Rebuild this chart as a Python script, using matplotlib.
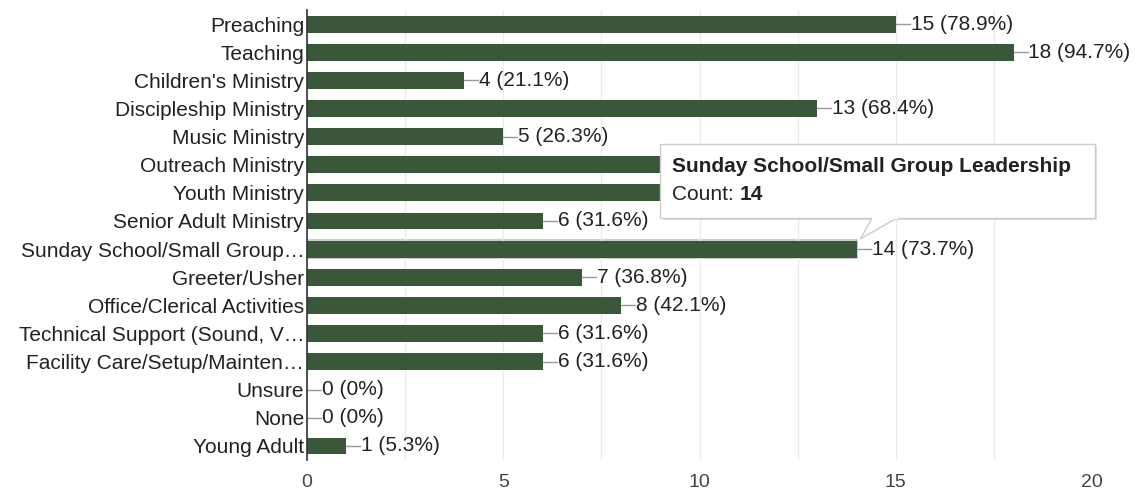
import matplotlib.pyplot as plt
import numpy as np
from matplotlib.patches import FancyBboxPatch, Polygon

plt.rcParams['font.family'] = ['Liberation Sans', 'DejaVu Sans']

# ministry areas and response counts (19 respondents)
labels = ['Preaching', 'Teaching', "Children's Ministry", 'Discipleship Ministry',
          'Music Ministry', 'Outreach Ministry', 'Youth Ministry', 'Senior Adult Ministry',
          'Sunday School/Small Group\u2026', 'Greeter/Usher', 'Office/Clerical Activities',
          'Technical Support (Sound, V\u2026', 'Facility Care/Setup/Mainten\u2026',
          'Unsure', 'None', 'Young Adult']
counts = [15, 18, 4, 13, 5, 11, 10, 6, 14, 7, 8, 6, 6, 0, 0, 1]
total = 19
hover_idx = 8
hover_title = 'Sunday School/Small Group Leadership'

fs = 15
bar_color = '#3a573a'
fig = plt.figure(figsize=(11.38, 4.93), dpi=100)
ax = fig.add_axes([307/1138, 33/493, (1092-307)/1138, 450/493])

y = np.arange(len(labels))
ax.barh(y, counts, height=0.6, color=bar_color, zorder=2)
# hovered bar gets a soft outline
ax.barh(y[hover_idx], counts[hover_idx], height=0.66, color='none',
        edgecolor='#9a9a9a', lw=1.2, alpha=0.6, zorder=1)

ax.set_xlim(0, 20)
ax.set_ylim(len(labels) - 0.5, -0.5)
ax.set_xticks([0, 5, 10, 15, 20])
ax.set_xticks(np.arange(0, 20.1, 2.5), minor=True)
ax.grid(axis='x', which='both', color='#ebebeb', lw=1, zorder=0)
ax.set_yticks(y)
ax.set_yticklabels(labels, fontsize=fs, color='#222222')
ax.tick_params(axis='y', length=0, pad=2)
ax.tick_params(axis='x', which='both', length=0, pad=10, labelsize=14, labelcolor='#444444')
for side in ['top', 'right', 'bottom']:
    ax.spines[side].set_visible(False)
ax.spines['left'].set_color('#333333')
ax.spines['left'].set_linewidth(1.2)
ax.spines['left'].set_zorder(3)

# tooltip extent in data units
bx0, bx1 = 9.0, 20.07
by0, by1 = 4.27, 6.88

# leader line plus value label at the end of each bar
px = 20 / (1092 - 307)
for i, c in enumerate(counts):
    if by0 < i < by1:
        continue  # label sits under the tooltip
    ax.plot([c, c + 14 * px], [i, i], color='#999999', lw=1, zorder=2, clip_on=False)
    ax.text(c + 15 * px, i, f'{c} ({c / total * 100:.1f}%)'.replace('(0.0%)', '(0%)'),
            va='center', ha='left', fontsize=fs, color='#222222', zorder=2)

# tooltip for the hovered bar
shadow = FancyBboxPatch((bx0 + 0.06, by0 + 0.08), bx1 - bx0, by1 - by0,
                        boxstyle='square,pad=0', fc='#000000', ec='none', alpha=0.12,
                        zorder=4, clip_on=False)
ax.add_patch(shadow)
box = FancyBboxPatch((bx0, by0), bx1 - bx0, by1 - by0, boxstyle='square,pad=0',
                     fc='white', ec='#cccccc', lw=1, zorder=5, clip_on=False)
ax.add_patch(box)
tip_x = counts[hover_idx]
tri = Polygon([[14.4, by1], [tip_x + 0.1, hover_idx - 0.36], [15.05, by1]],
              closed=False, fc='white', ec='#cccccc', lw=1, zorder=5, clip_on=False)
ax.add_patch(tri)
ax.plot([14.42, 15.03], [by1, by1], color='white', lw=1.6, zorder=6, clip_on=False)
ax.text(bx0 + 0.3, by0 + 0.8, hover_title, fontsize=fs, fontweight='bold',
        color='#222222', va='center', ha='left', zorder=6)
t = ax.text(bx0 + 0.3, by0 + 1.78, 'Count: ', fontsize=fs, color='#222222',
            va='center', ha='left', zorder=6)
ax.annotate(str(counts[hover_idx]), xy=(1, 0.5), xycoords=t, fontsize=fs,
            fontweight='bold', color='#222222', va='center', ha='left', zorder=6)

fig.savefig('out.png', dpi=100)
